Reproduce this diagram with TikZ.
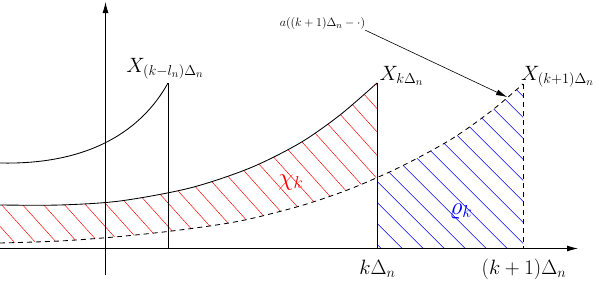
\documentclass[tikz,border=0pt]{standalone}
\usetikzlibrary{arrows.meta}
\begin{document}
\begin{tikzpicture}[x=1pt,y=-1pt]
\tikzset{
  big/.style={font=\fontsize{21}{25}\selectfont, inner sep=0pt},
  greek/.style={font=\fontsize{26}{30}\selectfont, inner sep=0pt},
  small/.style={font=\fontsize{12.5}{15}\selectfont, inner sep=0pt},
  curve/.style={line width=0.85pt},
  hatch/.style={line width=0.45pt},
  dashcurve/.style={line width=0.85pt, dash pattern=on 5pt off 4pt},
  axisarrow/.style={line width=0.8pt, -{Latex[length=11pt,width=6pt]}},
}
\useasboundingbox (0,0) rectangle (598,281);
\def\curveB{plot[smooth] coordinates {(0,205) (60,205) (120,201) (190,188) (250,168) (300,143) (340,115) (377,83)}}
\def\curveC{plot[smooth] coordinates {(0,243) (60,241) (120,236.5) (180,230) (240,221) (300,206) (350,189) (400,167) (450,140) (490,112) (523,84)}}
% red hatch
\begin{scope}
  \clip \curveB -- (377,260) -- (0,260) -- cycle;
  \clip \curveC -- (523,0) -- (0,0) -- cycle;
  \foreach \i in {-3,...,25} \draw[red,hatch] ({3.3+21*\i-114},80) -- ({3.3+21*\i+48},260);
\end{scope}
% blue hatch
\begin{scope}
  \clip (377,0) rectangle (523,248.5);
  \clip \curveC -- (523,248.5) -- (0,248.5) -- cycle;
  \foreach \i in {3,...,22} \draw[blue,hatch] ({6.7+21*\i+80},80) -- ({6.7+21*\i+250},250);
\end{scope}
% coordinates
\coordinate (xo) at (0,248.5);
\coordinate (xe) at (578,248.5);
\coordinate (yo) at (105.5,275);
\coordinate (ye) at (105.5,2);
\coordinate (a0) at (0,163);
\coordinate (la) at (168,83);
\coordinate (lb) at (168,248.5);
\coordinate (ka) at (377,83);
\coordinate (kb) at (377,248.5);
\coordinate (ma) at (523,84);
\coordinate (mb) at (523,248.5);
\coordinate (atip) at (507,97);
% axes
\draw[axisarrow] (xo) -- (xe);
\draw[axisarrow] (yo) -- (ye);
% curves
\draw[curve] (a0) .. controls (90,165) and (142,130) .. (la);
\draw[curve] \curveB;
\draw[dashcurve] \curveC;
% verticals
\draw[curve] (la) -- (lb);
\draw[curve] (ka) -- (kb);
\draw[dashcurve] (ma) -- (mb);
% labels
\node[big, anchor=base] (xl) at (165,72) {$X_{(k-l_n)\Delta_n}$};
\node[big, anchor=base] (xk) at (401.5,80) {$X_{k\Delta_n}$};
\node[big, anchor=base] (xk1) at (557.5,80) {$X_{(k+1)\Delta_n}$};
\node[big, anchor=base] (tk) at (377.5,274) {$k\Delta_n$};
\node[big, anchor=base] (tk1) at (524,274) {$(k+1)\Delta_n$};
\node[greek, anchor=base, red] (chi) at (291,185) {$\chi_k$};
\node[greek, anchor=base, blue] (rho) at (461,214) {$\varrho_k$};
\node[small, anchor=base] (al) at (322.5,27) {$a((k+1)\Delta_n-\cdot)$};
\draw[line width=0.6pt, -{Latex[length=11pt,width=6pt]}] (al.south east) -- (atip);
\end{tikzpicture}
\end{document}
